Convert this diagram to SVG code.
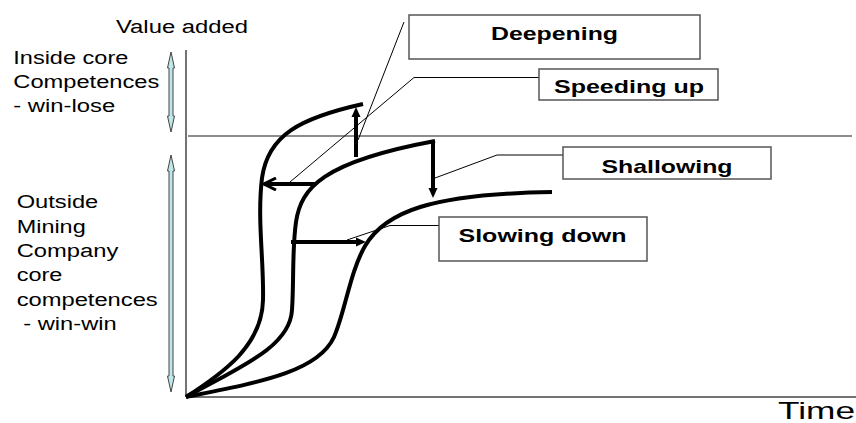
<svg xmlns="http://www.w3.org/2000/svg" width="856" height="423" viewBox="0 0 856 423">
<style>
text{font-family:"Liberation Sans",Arial,sans-serif;fill:#000}
.lbl{font-size:18px}
.bl{font-size:19px;font-weight:bold;text-anchor:middle}
.box{fill:#fff;stroke:#555;stroke-width:1.5}
.axis{stroke:#444;stroke-width:1.5;fill:none}
.curve{stroke:#000;stroke-width:4;fill:none}
.arr{stroke:#000;stroke-width:4;fill:none}
.lead{stroke:#000;stroke-width:1;fill:none}
.dbl{fill:#bfe6e8;stroke:#444;stroke-width:1}
</style>
<defs>
<marker id="arrowF" markerUnits="userSpaceOnUse" viewBox="0 0 10 10" markerWidth="10" markerHeight="10" refX="2" refY="5" orient="auto">
<path d="M0,0.5 L10,5 L0,9.5 Z" fill="#000"/>
</marker>
<marker id="arrowO" markerUnits="userSpaceOnUse" viewBox="0 0 16 14" markerWidth="16" markerHeight="14" refX="14" refY="7" orient="auto">
<path d="M2,1 L14,7 L2,13" fill="none" stroke="#000" stroke-width="3"/>
</marker>
</defs>

<g id="axes">
<line class="axis" x1="186" y1="50" x2="186" y2="397"/>
<line class="axis" x1="186" y1="397" x2="856" y2="397"/>
<line x1="188" y1="136" x2="852" y2="136" stroke="#666" stroke-width="1.5"/>
<text id="value-added" class="lbl" x="116" y="33" textLength="132" lengthAdjust="spacingAndGlyphs">Value added</text>
<text id="time" x="778" y="419" font-size="24" textLength="77" lengthAdjust="spacingAndGlyphs">Time</text>
</g>

<g id="inside-core">
<polygon class="dbl" points="171,52 174.5,68 173,68 173,116 174.5,116 171,132 167.5,116 169,116 169,68 167.5,68"/>
<text class="lbl" x="13.3" y="64" textLength="115" lengthAdjust="spacingAndGlyphs">Inside core</text>
<text class="lbl" x="13.3" y="88" textLength="146" lengthAdjust="spacingAndGlyphs">Competences</text>
<text class="lbl" x="13.3" y="112" textLength="102" lengthAdjust="spacingAndGlyphs">- win-lose</text>
</g>

<g id="outside-core">
<polygon class="dbl" points="171,155 174.5,171 173,171 173,376 174.5,376 171,392 167.5,376 169,376 169,171 167.5,171"/>
<text class="lbl" x="16.7" y="208" textLength="81.6" lengthAdjust="spacingAndGlyphs">Outside</text>
<text class="lbl" x="16.7" y="233" textLength="69" lengthAdjust="spacingAndGlyphs">Mining</text>
<text class="lbl" x="16.7" y="257" textLength="101.6" lengthAdjust="spacingAndGlyphs">Company</text>
<text class="lbl" x="16.7" y="281" textLength="45.6" lengthAdjust="spacingAndGlyphs">core</text>
<text class="lbl" x="16.7" y="305.5" textLength="141" lengthAdjust="spacingAndGlyphs">competences</text>
<text class="lbl" x="23.3" y="330" textLength="93.4" lengthAdjust="spacingAndGlyphs">- win-win</text>
</g>

<g id="curves">
<path id="curve-deep" class="curve" d="M186,397 C225,372 262,345 263,300 C264,260 257,220 262,178 C268,135 300,118 363,104"/>
<path id="curve-mid" class="curve" d="M186,397 C240,367 290,347 292,310 C294,280 292,250 296,222 C301,188 322,162 435,141"/>
<path id="curve-shallow" class="curve" d="M186,397 C260,382 318,372 334,337 C345,312 350,272 365,246 C385,212 430,194 552,192"/>
</g>

<g id="connectors">
<line class="arr" x1="356" y1="157" x2="356" y2="115" marker-end="url(#arrowF)"/>
<line class="arr" x1="316" y1="184" x2="264" y2="184" marker-end="url(#arrowO)"/>
<line class="arr" x1="433" y1="140" x2="433" y2="190" marker-end="url(#arrowF)"/>
<line class="arr" x1="291" y1="242" x2="358" y2="242" marker-end="url(#arrowF)"/>
<polyline class="lead" points="358,140 404,22"/>
<polyline class="lead" points="290,182 414,77.5 539,77.5"/>
<polyline class="lead" points="435,178 497,155 563,155"/>
<polyline class="lead" points="347,240 390,225.5 439,225.5"/>
</g>

<g id="deepening">
<rect class="box" x="409" y="15" width="291" height="44"/>
<text class="bl" x="554.5" y="39.5" textLength="127" lengthAdjust="spacingAndGlyphs">Deepening</text>
</g>
<g id="speeding-up">
<rect class="box" x="539" y="69" width="179" height="31"/>
<text class="bl" x="629" y="93.3" textLength="150" lengthAdjust="spacingAndGlyphs">Speeding up</text>
</g>
<g id="shallowing">
<rect class="box" x="563" y="147" width="208" height="32"/>
<text class="bl" x="667" y="172.7" textLength="131" lengthAdjust="spacingAndGlyphs">Shallowing</text>
</g>
<g id="slowing-down">
<rect class="box" x="439" y="217" width="208" height="44"/>
<text class="bl" x="542.5" y="241.7" textLength="168" lengthAdjust="spacingAndGlyphs">Slowing down</text>
</g>
</svg>
